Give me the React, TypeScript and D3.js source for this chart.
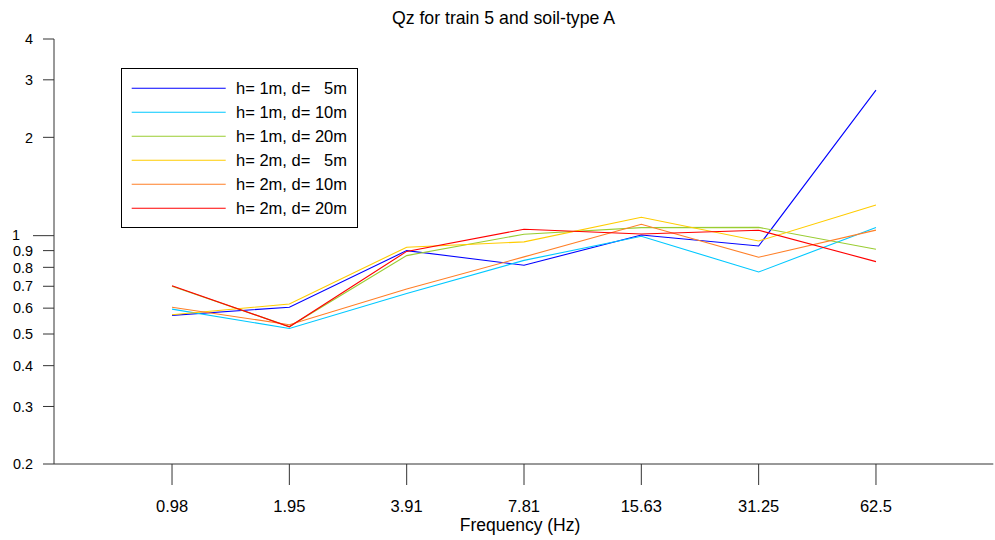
import React from "react";
import * as d3 from "d3";

// ─── Data ─────────────────────────────────────────────────────────────────────
const FREQS = ["0.98", "1.95", "3.91", "7.81", "15.63", "31.25", "62.5"];
const H1_D5 = [0.57, 0.604, 0.9, 0.812, 1.005, 0.93, 2.79];
const H1_D10 = [0.596, 0.52, 0.665, 0.84, 0.996, 0.774, 1.06];
const H1_D20 = [0.7, 0.527, 0.869, 1.01, 1.058, 1.06, 0.909];
const H2_D5 = [0.573, 0.618, 0.922, 0.957, 1.138, 0.963, 1.242];
const H2_D10 = [0.604, 0.534, 0.687, 0.861, 1.084, 0.859, 1.04];
const H2_D20 = [0.703, 0.526, 0.895, 1.046, 1.012, 1.039, 0.833];

const SERIES_NAMES = [
  "h= 1m, d=   5m",
  "h= 1m, d= 10m",
  "h= 1m, d= 20m",
  "h= 2m, d=   5m",
  "h= 2m, d= 10m",
  "h= 2m, d= 20m",
];
const SERIES_VALUES = [H1_D5, H1_D10, H1_D20, H2_D5, H2_D10, H2_D20];
const COLORS = ["#0000ff", "#00c8ff", "#9acd32", "#ffcc00", "#ff7f27", "#ff0000"];

const Y_TICKS_SMALL = [0.2, 0.3, 0.4, 0.5, 0.6, 0.7, 0.8, 0.9];
const Y_TICKS_BIG = [2, 3, 4];

// ─── Layout ───────────────────────────────────────────────────────────────────
const W = 995;
const H = 540;
const X0 = 54.7;
const X1 = 993.3;
const Y_TOP = 39;
const Y_BOT = 464;
const AXIS = "#333";
const FONT = "Liberation Sans, Arial, Helvetica, sans-serif";

export default function App() {
  const x = d3.scalePoint<string>().domain(FREQS).range([X0, X1]).padding(1);
  const y = d3.scaleLog().domain([0.2, 4]).range([Y_BOT, Y_TOP]);

  const line = d3
    .line<number>()
    .x((_, i) => x(FREQS[i]) as number)
    .y((d) => y(d));

  return (
    <svg
      width={W}
      height={H}
      style={{ position: "absolute", left: 0, top: 0, background: "#fff", fontFamily: FONT }}
    >
      {/* title */}
      <text x={503.5} y={24} textAnchor="middle" fontSize={17.7} fill="#000">
        Qz for train 5 and soil-type A
      </text>

      {/* y axis: 0.2–0.9 and 2–4 share one tick style, 1 has its own longer tick */}
      <line x1={X0 - 0.7} x2={X0 - 0.7} y1={Y_TOP} y2={Y_BOT} stroke={AXIS} />
      {Y_TICKS_SMALL.concat(Y_TICKS_BIG).map((t) => (
        <g key={t} transform={`translate(0,${y(t)})`}>
          <line x1={43} x2={54} stroke={AXIS} />
          <text x={33} dy="0.36em" textAnchor="end" fontSize={14.4} fill="#000">
            {t}
          </text>
        </g>
      ))}
      <g transform={`translate(0,${y(1)})`}>
        <line x1={33} x2={54} stroke={AXIS} />
        <text x={20} dy="0.33em" textAnchor="end" fontSize={14.4} fill="#000">
          1
        </text>
      </g>

      {/* x axis */}
      <line x1={X0 - 0.7} x2={X1} y1={Y_BOT} y2={Y_BOT} stroke={AXIS} />
      {FREQS.map((f) => (
        <g key={f} transform={`translate(${x(f)},0)`}>
          <line y1={Y_BOT} y2={Y_BOT + 21} stroke={AXIS} />
          <text y={512} textAnchor="middle" fontSize={16.5} fill="#000">
            {f}
          </text>
        </g>
      ))}
      <text x={(x("7.81") as number) - 4} y={531} textAnchor="middle" fontSize={17.5} fill="#000">
        Frequency (Hz)
      </text>

      {/* series */}
      {SERIES_VALUES.map((vals, i) => (
        <path key={i} d={line(vals) ?? ""} fill="none" stroke={COLORS[i]} strokeWidth={1.1} />
      ))}

      {/* legend */}
      <rect x={121.5} y={68.5} width={236} height={159} fill="#fff" stroke="#000" />
      {SERIES_NAMES.map((name, i) => {
        const ly = 88.3 + i * 24;
        return (
          <g key={name}>
            <line x1={131.7} x2={225.7} y1={ly} y2={ly} stroke={COLORS[i]} strokeWidth={1.1} />
            <text x={236} y={ly} dy="0.36em" fontSize={16.5} fill="#000" style={{ whiteSpace: "pre" }}>
              {name}
            </text>
          </g>
        );
      })}
    </svg>
  );
}
